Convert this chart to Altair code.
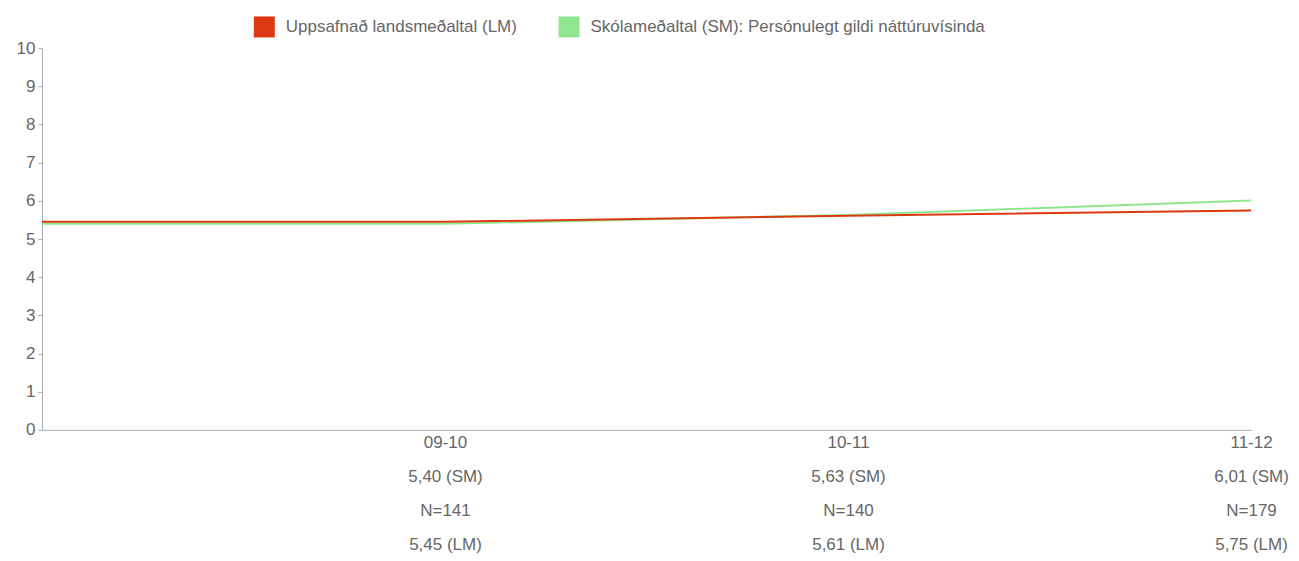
import altair as alt
import pandas as pd

years = ["09-10", "10-11", "11-12"]
sm_values = [5.40, 5.63, 6.01]
lm_values = [5.45, 5.61, 5.75]
n_values = [141, 140, 179]

LM = "Uppsafnað landsmeðaltal (LM)"
SM = "Skólameðaltal (SM): Persónulegt gildi náttúruvísinda"

# first point (position 0) repeats the first year's value so the line starts at the axis
rows = []
for name, vals in [(SM, sm_values), (LM, lm_values)]:
    rows.append({"pos": 0, "value": vals[0], "series": name})
    for i, v in enumerate(vals):
        rows.append({"pos": i + 1, "value": v, "series": name})
df = pd.DataFrame(rows)

def fmt(v):
    return f"{v:.2f}".replace(".", ",")

parts = []
for i, y in enumerate(years):
    arr = "['%s','%s (SM)','N=%d','%s (LM)']" % (y, fmt(sm_values[i]), n_values[i], fmt(lm_values[i]))
    parts.append((i + 1, arr))
expr = "''"
for pos, arr in reversed(parts):
    expr = f"datum.value == {pos} ? {arr} : ({expr})"

FONT = "Liberation Sans"
GREY = "#666666"
FS = 17

color_scale = alt.Scale(domain=[LM, SM], range=["#dc3912", "#8fe68f"])

x_enc = alt.X(
    "pos:Q",
    scale=alt.Scale(domain=[0, 3], nice=False, zero=True),
    axis=alt.Axis(
        values=[1, 2, 3],
        labelExpr=expr,
        ticks=False,
        grid=False,
        title=None,
        domainColor="#aaaaaa",
        labelColor=GREY,
        labelFont=FONT,
        labelFontSize=FS,
        labelLineHeight=34,
        labelBaseline="top",
        labelPadding=5,
        labelOverlap=False,
        labelFlush=False,
    ),
)
y_enc = alt.Y(
    "value:Q",
    scale=alt.Scale(domain=[0, 10], nice=False),
    axis=alt.Axis(
        values=list(range(0, 11)),
        grid=False,
        title=None,
        domainColor="#aaaaaa",
        tickColor="#aaaaaa",
        tickSize=4,
        labelColor=GREY,
        labelFont=FONT,
        labelFontSize=FS,
        labelPadding=3,
    ),
)
color_enc = alt.Color(
    "series:N",
    scale=color_scale,
    legend=alt.Legend(
        title=None,
        orient="none",
        direction="horizontal",
        legendX=212,
        legendY=-32,
        symbolType="square",
        symbolSize=100,
        symbolStrokeWidth=11,
        symbolOpacity=1,
        labelFont=FONT,
        labelFontSize=FS,
        labelColor=GREY,
        labelLimit=600,
        columnPadding=24,
        labelOffset=11,
    ),
)

green = alt.Chart(df[df.series == SM]).mark_line(strokeWidth=2).encode(
    x=x_enc, y=y_enc, color=color_enc
)
red = alt.Chart(df[df.series == LM]).mark_line(strokeWidth=2).encode(
    x=x_enc, y=y_enc, color=color_enc
)

chart = (
    alt.layer(green, red)
    .properties(
        width=1210,
        height=382,
        autosize=alt.AutoSizeParams(type="none"),
        padding={"left": 34, "top": 40, "right": 40, "bottom": 123},
    )
    .configure_view(stroke=None)
)

chart.save("out.html", embed_options={"renderer": "svg", "actions": False})
